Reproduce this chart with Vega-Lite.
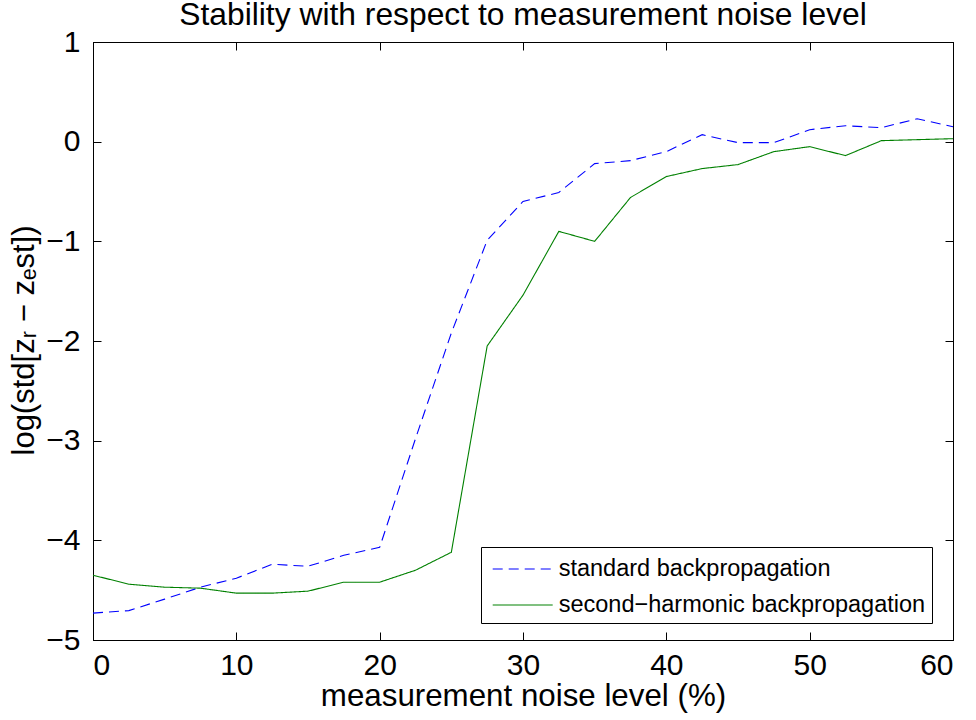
{
  "$schema": "https://vega.github.io/schema/vega-lite/v6.json",
  "autosize": "none",
  "width": 860,
  "height": 598,
  "padding": {"left": 93, "top": 42, "right": 23, "bottom": 80},
  "background": "white",
  "title": {
    "text": "Stability with respect to measurement noise level",
    "font": "Liberation Sans",
    "fontSize": 31.8,
    "fontWeight": "normal",
    "color": "black",
    "offset": 0,
    "dy": 4.5
  },
  "config": {
    "view": {"stroke": "black", "strokeWidth": 1},
    "font": "Liberation Sans"
  },
  "data": {
    "values": [
      {"x": 0, "y": -4.73, "series": "standard backpropagation"},
      {"x": 2.5, "y": -4.705, "series": "standard backpropagation"},
      {"x": 5, "y": -4.59, "series": "standard backpropagation"},
      {"x": 7.5, "y": -4.47, "series": "standard backpropagation"},
      {"x": 10, "y": -4.38, "series": "standard backpropagation"},
      {"x": 12.5, "y": -4.24, "series": "standard backpropagation"},
      {"x": 15, "y": -4.26, "series": "standard backpropagation"},
      {"x": 17.5, "y": -4.15, "series": "standard backpropagation"},
      {"x": 20, "y": -4.07, "series": "standard backpropagation"},
      {"x": 22.5, "y": -2.98, "series": "standard backpropagation"},
      {"x": 25, "y": -1.92, "series": "standard backpropagation"},
      {"x": 27.5, "y": -0.99, "series": "standard backpropagation"},
      {"x": 30, "y": -0.6, "series": "standard backpropagation"},
      {"x": 32.5, "y": -0.51, "series": "standard backpropagation"},
      {"x": 35, "y": -0.22, "series": "standard backpropagation"},
      {"x": 37.5, "y": -0.19, "series": "standard backpropagation"},
      {"x": 40, "y": -0.1, "series": "standard backpropagation"},
      {"x": 42.5, "y": 0.07, "series": "standard backpropagation"},
      {"x": 45, "y": -0.01, "series": "standard backpropagation"},
      {"x": 47.5, "y": -0.01, "series": "standard backpropagation"},
      {"x": 50, "y": 0.12, "series": "standard backpropagation"},
      {"x": 52.5, "y": 0.16, "series": "standard backpropagation"},
      {"x": 55, "y": 0.14, "series": "standard backpropagation"},
      {"x": 57.5, "y": 0.23, "series": "standard backpropagation"},
      {"x": 60, "y": 0.15, "series": "standard backpropagation"},
      {"x": 0, "y": -4.35, "series": "second\u2212harmonic backpropagation"},
      {"x": 2.5, "y": -4.44, "series": "second\u2212harmonic backpropagation"},
      {"x": 5, "y": -4.47, "series": "second\u2212harmonic backpropagation"},
      {"x": 7.5, "y": -4.48, "series": "second\u2212harmonic backpropagation"},
      {"x": 10, "y": -4.53, "series": "second\u2212harmonic backpropagation"},
      {"x": 12.5, "y": -4.53, "series": "second\u2212harmonic backpropagation"},
      {"x": 15, "y": -4.51, "series": "second\u2212harmonic backpropagation"},
      {"x": 17.5, "y": -4.42, "series": "second\u2212harmonic backpropagation"},
      {"x": 20, "y": -4.42, "series": "second\u2212harmonic backpropagation"},
      {"x": 22.5, "y": -4.3, "series": "second\u2212harmonic backpropagation"},
      {"x": 25, "y": -4.12, "series": "second\u2212harmonic backpropagation"},
      {"x": 27.5, "y": -2.05, "series": "second\u2212harmonic backpropagation"},
      {"x": 30, "y": -1.54, "series": "second\u2212harmonic backpropagation"},
      {"x": 32.5, "y": -0.9, "series": "second\u2212harmonic backpropagation"},
      {"x": 35, "y": -1.0, "series": "second\u2212harmonic backpropagation"},
      {"x": 37.5, "y": -0.56, "series": "second\u2212harmonic backpropagation"},
      {"x": 40, "y": -0.35, "series": "second\u2212harmonic backpropagation"},
      {"x": 42.5, "y": -0.27, "series": "second\u2212harmonic backpropagation"},
      {"x": 45, "y": -0.23, "series": "second\u2212harmonic backpropagation"},
      {"x": 47.5, "y": -0.1, "series": "second\u2212harmonic backpropagation"},
      {"x": 50, "y": -0.05, "series": "second\u2212harmonic backpropagation"},
      {"x": 52.5, "y": -0.14, "series": "second\u2212harmonic backpropagation"},
      {"x": 55, "y": 0.01, "series": "second\u2212harmonic backpropagation"},
      {"x": 57.5, "y": 0.02, "series": "second\u2212harmonic backpropagation"},
      {"x": 60, "y": 0.03, "series": "second\u2212harmonic backpropagation"}
    ]
  },
  "layer": [
    {
      "mark": {"type": "line", "strokeWidth": 1.1},
      "encoding": {
        "x": {
          "field": "x", "type": "quantitative",
          "scale": {"domain": [0, 60], "nice": false},
          "axis": {
            "title": "measurement noise level (%)",
            "values": [0, 10, 20, 30, 40, 50, 60],
            "format": "d",
            "grid": false,
            "domainColor": "black",
            "tickColor": "black",
            "tickSize": -8,
            "labelPadding": 18,
            "labelFontSize": 30,
            "labelColor": "black",
            "labelFont": "Liberation Sans",
            "titleFont": "Liberation Sans",
            "titleFontSize": 31.3,
            "titleFontWeight": "normal",
            "titleColor": "black",
            "titleBaseline": "alphabetic",
            "titleY": 65
          }
        },
        "y": {
          "field": "y", "type": "quantitative",
          "scale": {"domain": [-5, 1], "nice": false},
          "axis": {
            "title": "log(std[z\u1d63 \u2212 z\u2091st])",
            "values": [-5, -4, -3, -2, -1, 0, 1],
            "format": "d",
            "grid": false,
            "domainColor": "black",
            "tickColor": "black",
            "tickSize": -8,
            "labelPadding": 21,
            "labelFontSize": 30,
            "labelColor": "black",
            "labelFont": "Liberation Sans",
            "titleFont": "Liberation Sans",
            "titleFontSize": 31,
            "titleFontWeight": "normal",
            "titleColor": "black",
            "titleAngle": 270,
            "titleAlign": "center",
            "titleBaseline": "alphabetic",
            "titleX": -60,
            "titleY": 298
          }
        },
        "color": {
          "field": "series", "type": "nominal",
          "scale": {
            "domain": ["standard backpropagation", "second\u2212harmonic backpropagation"],
            "range": ["#0000ff", "#008000"]
          },
          "legend": {
            "title": null,
            "orient": "none",
            "legendX": 388,
            "legendY": 505,
            "direction": "vertical",
            "strokeColor": "black",
            "fillColor": "white",
            "padding": 6,
            "symbolType": "M-1,0H3",
            "symbolSize": 900,
            "symbolOffset": 4.7,
            "symbolStrokeWidth": 1.1,
            "symbolFillColor": "transparent",
            "labelFontSize": 23.5,
            "labelFont": "Liberation Sans",
            "labelColor": "black",
            "labelLimit": 600,
            "labelOffset": 35,
            "labelExpr": "datum.label + '\u00a0\u00a0\u00a0'",
            "rowPadding": 8
          }
        },
        "strokeDash": {
          "field": "series", "type": "nominal",
          "scale": {
            "domain": ["standard backpropagation", "second\u2212harmonic backpropagation"],
            "range": [[10, 6], [1, 0]]
          },
          "legend": {
            "title": null,
            "orient": "none",
            "legendX": 388,
            "legendY": 505,
            "direction": "vertical",
            "strokeColor": "black",
            "fillColor": "white",
            "padding": 6,
            "symbolType": "M-1,0H3",
            "symbolSize": 900,
            "symbolOffset": 4.7,
            "symbolStrokeWidth": 1.1,
            "symbolFillColor": "transparent",
            "labelFontSize": 23.5,
            "labelFont": "Liberation Sans",
            "labelColor": "black",
            "labelLimit": 600,
            "labelOffset": 35,
            "labelExpr": "datum.label + '\u00a0\u00a0\u00a0'",
            "rowPadding": 8
          }
        }
      }
    },
    {
      "mark": {"type": "line", "opacity": 0},
      "encoding": {
        "x": {
          "field": "x", "type": "quantitative",
          "scale": {"domain": [0, 60], "nice": false},
          "axis": {
            "orient": "top", "title": null, "labels": false,
            "values": [0, 10, 20, 30, 40, 50, 60],
            "grid": false, "domainColor": "black", "tickColor": "black", "tickSize": -8
          }
        },
        "y": {
          "field": "y", "type": "quantitative",
          "scale": {"domain": [-5, 1], "nice": false},
          "axis": {
            "orient": "right", "title": null, "labels": false,
            "values": [-5, -4, -3, -2, -1, 0, 1],
            "grid": false, "domainColor": "black", "tickColor": "black", "tickSize": -8
          }
        },
        "detail": {"field": "series", "type": "nominal"}
      }
    }
  ],
  "resolve": {"axis": {"x": "independent", "y": "independent"}}
}
